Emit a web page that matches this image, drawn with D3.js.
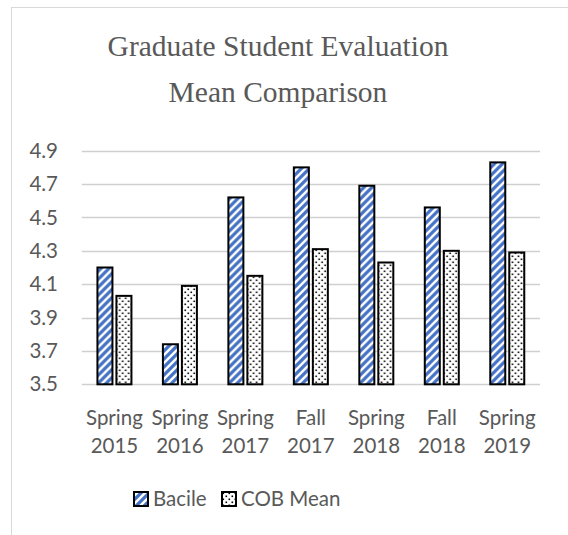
<!DOCTYPE html>
<html>
<head>
<meta charset="utf-8">
<script src="https://cdn.jsdelivr.net/npm/d3@7"></script>
<style>
  body { margin: 0; background: #fff; }
  svg { display: block; }
</style>
</head>
<body>
<script>
// chart data
var categories = [["Spring", "2015"], ["Spring", "2016"], ["Spring", "2017"], ["Fall", "2017"],
                  ["Spring", "2018"], ["Fall", "2018"], ["Spring", "2019"]];
var seriesNames = ["Bacile", "COB Mean"];
var bacile = [4.20, 3.74, 4.62, 4.80, 4.69, 4.56, 4.83];
var cobMean = [4.03, 4.09, 4.15, 4.31, 4.23, 4.30, 4.29];
var yTicks = [3.5, 3.7, 3.9, 4.1, 4.3, 4.5, 4.7, 4.9];

const WIDTH = 568;
const HEIGHT = 535;
const TEXT = "#595959";
const FONT = "Lato, 'Open Sans', sans-serif";

var keys = categories.map(c => c.join(" "));

var svg = d3.select("body")
    .append("svg")
    .attr("width", WIDTH)
    .attr("height", HEIGHT);

// fill patterns
var defs = svg.append("defs");
var stripes = defs.append("pattern")
    .attr("id", "stripes")
    .attr("patternUnits", "userSpaceOnUse")
    .attr("width", 8)
    .attr("height", 8);
stripes.append("rect").attr("width", 8).attr("height", 8).attr("fill", "#fff");
stripes.append("path")
    .attr("d", "M-2,2 L2,-2 M0,8 L8,0 M6,10 L10,6")
    .attr("stroke", "#4472c4")
    .attr("stroke-width", 3.2);

var dots = defs.append("pattern")
    .attr("id", "dots")
    .attr("patternUnits", "userSpaceOnUse")
    .attr("width", 6)
    .attr("height", 6);
dots.append("rect").attr("width", 6).attr("height", 6).attr("fill", "#fff");
dots.append("rect").attr("x", 0.5).attr("y", 0.5).attr("width", 1.6).attr("height", 1.6).attr("fill", "#000");
dots.append("rect").attr("x", 3.5).attr("y", 3.5).attr("width", 1.6).attr("height", 1.6).attr("fill", "#000");

var fills = ["url(#stripes)", "url(#dots)"];

// chart border
svg.append("rect")
    .attr("x", 11.5).attr("y", 7.5)
    .attr("width", 700).attr("height", 700)
    .attr("fill", "none")
    .attr("stroke", "#d9d9d9");

// title
svg.append("text")
    .attr("x", 278)
    .attr("text-anchor", "middle")
    .attr("font-family", "'Liberation Serif', 'Times New Roman', serif")
    .attr("font-size", "29.5px")
    .attr("fill", TEXT)
    .selectAll("tspan")
    .data(["Graduate Student Evaluation", "Mean Comparison"])
    .enter()
    .append("tspan")
    .attr("x", 278)
    .attr("y", (d, i) => 56 + i * 46)
    .text(d => d);

// scales
var x0 = d3.scaleBand()
    .domain(keys)
    .range([81.7, 540]);

var x1 = d3.scaleBand()
    .domain(seriesNames)
    .range([0, 34])
    .paddingInner(0.21);

var y = d3.scaleLinear()
    .domain([3.5, 4.9])
    .range([384.3, 150.7]);

// gridlines
svg.append("g")
    .selectAll("line")
    .data(yTicks)
    .enter()
    .append("line")
    .attr("x1", 81.7)
    .attr("x2", 540)
    .attr("y1", d => Math.round(y(d)) + 0.5)
    .attr("y2", d => Math.round(y(d)) + 0.5)
    .attr("stroke", "#d0d0d0")
    .attr("stroke-width", 1.4);

// y tick labels
svg.append("g")
    .selectAll("text")
    .data(yTicks)
    .enter()
    .append("text")
    .attr("x", 58)
    .attr("y", d => y(d))
    .attr("dy", "0.35em")
    .attr("text-anchor", "end")
    .attr("font-family", FONT)
    .attr("font-size", "20.5px")
    .attr("fill", TEXT)
    .text(d => d.toFixed(1));

// bars
var rows = keys.map((k, i) => ({key: k, values: [bacile[i], cobMean[i]]}));

var groups = svg.append("g")
    .selectAll("g")
    .data(rows)
    .enter()
    .append("g")
    .attr("transform", d => `translate(${x0(d.key) + x0.bandwidth() / 2 - 17},0)`);

groups.selectAll("rect")
    .data(d => d.values.map((v, j) => ({name: seriesNames[j], value: v, j: j})))
    .enter()
    .append("rect")
    .attr("x", d => x1(d.name))
    .attr("width", x1.bandwidth())
    .attr("y", d => y(d.value))
    .attr("height", d => y(3.5) - y(d.value))
    .attr("fill", d => fills[d.j])
    .attr("stroke", "#000")
    .attr("stroke-width", 2);

// category labels
var catLabels = svg.append("g")
    .selectAll("text")
    .data(categories)
    .enter()
    .append("text")
    .attr("text-anchor", "middle")
    .attr("font-family", FONT)
    .attr("font-size", "20.5px")
    .attr("fill", TEXT);

catLabels.selectAll("tspan")
    .data((c, i) => c.map(s => ({s: s, key: keys[i]})))
    .enter()
    .append("tspan")
    .attr("x", d => x0(d.key) + x0.bandwidth() / 2)
    .attr("y", (d, i) => 425 + i * 28)
    .text(d => d.s);

// legend
var legendX = [134, 222];
var legend = svg.append("g")
    .selectAll("g")
    .data(seriesNames)
    .enter()
    .append("g")
    .attr("transform", (d, i) => `translate(${legendX[i]},492)`);

legend.append("rect")
    .attr("width", 14)
    .attr("height", 14)
    .attr("fill", (d, i) => fills[i])
    .attr("stroke", "#000")
    .attr("stroke-width", 2);

legend.append("text")
    .attr("x", 19)
    .attr("y", 13.5)
    .attr("font-family", FONT)
    .attr("font-size", "20.5px")
    .attr("fill", TEXT)
    .text(d => d);
</script>
</body>
</html>
